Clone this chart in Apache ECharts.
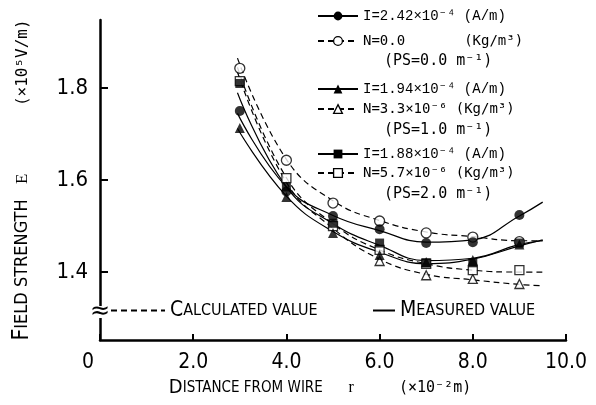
<!DOCTYPE html>
<html><head><meta charset="utf-8">
<script src="https://cdn.jsdelivr.net/npm/echarts@6/dist/echarts.min.js"></script>
<style>html,body{margin:0;padding:0;background:#fff}#c{width:596px;height:405px}</style>
</head><body><div id="c"></div>
<script>
// ---- data ----
const xTicks = [0, 2, 4, 6, 8, 10];
const yTicks = [1.4, 1.6, 1.8];
const pointX = [3, 4, 5, 6, 7, 8, 9];
const ptsMeasCircle = [1.750, 1.575, 1.522, 1.493, 1.463, 1.465, 1.524];
const ptsCalcCircle = [1.843, 1.643, 1.550, 1.511, 1.485, 1.476, 1.466];
const ptsMeasTri    = [1.713, 1.563, 1.485, 1.437, 1.422, 1.426, 1.460];
const ptsCalcTri    = [null, null, null, 1.424, 1.393, 1.385, 1.374];
const ptsMeasSq     = [1.810, 1.585, 1.506, 1.463, 1.420, 1.420, 1.463];
const ptsCalcSq     = [1.815, 1.604, 1.500, 1.448, 1.418, 1.404, 1.404];

const curveX = [2.95, 4, 5, 6, 7, 8, 9, 9.5];
const curveMeasCircle = [1.745, 1.585, 1.523, 1.490, 1.465, 1.470, 1.522, 1.552];
const curveCalcCircle = [1.865, 1.645, 1.555, 1.512, 1.487, 1.477, 1.468, 1.468];
const curveMeasTri    = [1.712, 1.565, 1.488, 1.443, 1.418, 1.428, 1.457, 1.470];
const curveCalcTri    = [1.835, 1.595, 1.495, 1.428, 1.395, 1.383, 1.373, 1.370];
const curveMeasSq     = [1.790, 1.585, 1.505, 1.458, 1.425, 1.430, 1.460, 1.468];
const curveCalcSq     = [1.845, 1.605, 1.505, 1.448, 1.418, 1.404, 1.400, 1.400];

const labelMC = 'I=2.42×10⁻⁴ (A/m)';
const labelCC = 'N=0.0       (Kg/m³)';
const labelMT = 'I=1.94×10⁻⁴ (A/m)';
const labelCT = 'N=3.3×10⁻⁶ (Kg/m³)';
const labelMS = 'I=1.88×10⁻⁴ (A/m)';
const labelCS = 'N=5.7×10⁻⁶ (Kg/m³)';
const psLabels = ['(PS=0.0 m⁻¹)', '(PS=1.0 m⁻¹)', '(PS=2.0 m⁻¹)'];
const calcName = 'Calculated value';
const measName = 'Measured value';

// ---- helpers ----
const pairs = (xs, ys) => xs.map((x, i) => [x, ys[i]]).filter(p => p[1] != null);
const SANS = "'DejaVu Sans Condensed', 'Liberation Sans Narrow', 'DejaVu Sans', sans-serif";
const FILLED = {color: '#000'};
const OPEN = {color: '#fff', borderColor: '#000', borderWidth: 1.3};

function curve(name, ys, dashed, symbol, style) {
  return {
    type: 'line', name, data: pairs(curveX, ys), smooth: 0.45,
    showSymbol: false, symbol, symbolSize: 9, itemStyle: style,
    lineStyle: {color: '#000', width: 1.2, type: dashed ? [6, 4] : 'solid'},
    z: 2, silent: true
  };
}
function pts(name, ys, symbol, style, size, z) {
  return {type: 'scatter', name, data: pairs(pointX, ys), symbol, symbolSize: size,
          itemStyle: style, z, silent: true};
}

const monoSerif = {fontFamily: "'Liberation Mono', 'DejaVu Sans Mono', monospace", fontSize: 14, color: '#000'};
const monoSans = {fontFamily: "'DejaVu Sans Mono', monospace", fontSize: 14, color: '#000'};
function legendRow(name, top, textStyle) {
  return {data: [name], left: 317, top, orient: 'vertical', padding: 0,
          itemWidth: 40, itemHeight: 11, selectedMode: false, textStyle,
          itemStyle: {borderWidth: 1.3}};
}
const smallCaps = {
  b: {fontFamily: SANS, fontSize: 20, color: '#000'},
  s: {fontFamily: SANS, fontSize: 15, color: '#000'}
};
const legendCaps = {
  b: {fontFamily: SANS, fontSize: 21, color: '#000'},
  s: {fontFamily: SANS, fontSize: 16, color: '#000'}
};
function scText(str) {
  // small caps: only the first letter large
  const up = str.toUpperCase();
  return '{b|' + up[0] + '}{s|' + up.slice(1) + '}';
}

const chart = echarts.init(document.getElementById('c'), null, {renderer: 'canvas'});
const option = {
  animation: false,
  backgroundColor: '#fff',
  grid: {left: 100, right: 30, top: 20, bottom: 65},
  xAxis: {
    type: 'value', min: 0, max: 10, interval: 2,
    axisLine: {show: true, lineStyle: {color: '#000', width: 2.5}},
    axisTick: {show: true, inside: true, length: 6, lineStyle: {color: '#000', width: 2}},
    splitLine: {show: false},
    axisLabel: {
      margin: 12, color: '#000', fontFamily: SANS, fontSize: 21,
      customValues: xTicks,
      formatter: v => v === 0 ? '{z|0}' : v.toFixed(1),
      rich: {z: {fontFamily: SANS, fontSize: 21, color: '#000', padding: [0, 24, 0, 0]}}
    },
    name: '{b|D}{s|ISTANCE FROM WIRE      }{r|r}{u|     (×10⁻²m)}',
    nameLocation: 'middle', nameGap: 33,
    nameTextStyle: {
      padding: [0, 26, 0, 0],
      rich: Object.assign({}, smallCaps, {
        r: {fontFamily: "'Liberation Serif', serif", fontSize: 16, color: '#000'},
        u: {fontFamily: "'DejaVu Sans Mono', monospace", fontSize: 15, color: '#000'}
      })
    }
  },
  yAxis: {
    type: 'value', min: 1.2522, max: 1.948,
    axisLine: {show: true, lineStyle: {color: '#000', width: 2.5}},
    axisTick: {show: true, inside: true, length: 8, customValues: yTicks, lineStyle: {color: '#000', width: 2}},
    splitLine: {show: false},
    axisLabel: {margin: 12, color: '#000', fontFamily: SANS, fontSize: 22, customValues: yTicks,
                formatter: v => v.toFixed(1)},
    name: '{B|F}{S|IELD STRENGTH   }{e|E}{u|       (×10⁵V/m)}',
    nameLocation: 'middle', nameGap: 66, nameRotate: 90,
    nameTextStyle: {
      rich: {
        B: {fontFamily: SANS, fontSize: 23, color: '#000'},
        S: {fontFamily: SANS, fontSize: 18, color: '#000'},
        e: {fontFamily: "'Liberation Serif', serif", fontSize: 17, color: '#000'},
        u: {fontFamily: "'DejaVu Sans Mono', monospace", fontSize: 16, color: '#000'}
      }
    }
  },
  legend: [
    legendRow(labelMC, 9, monoSerif),
    legendRow(labelCC, 34, monoSans),
    legendRow(labelMT, 82, monoSerif),
    legendRow(labelCT, 102, monoSans),
    legendRow(labelMS, 147, monoSerif),
    legendRow(labelCS, 166, monoSans),
    {data: [calcName], left: 110, top: 300, padding: 0, itemWidth: 54, itemHeight: 12,
     selectedMode: false, formatter: n => scText(n), textStyle: {rich: legendCaps}},
    {data: [measName], left: 372, top: 300, padding: 0, itemWidth: 22, itemHeight: 12,
     selectedMode: false, formatter: n => scText(n), textStyle: {rich: legendCaps}}
  ],
  series: [
    curve(labelMC, curveMeasCircle, false, 'circle', FILLED),
    curve(labelCC, curveCalcCircle, true, 'circle', OPEN),
    curve(labelMT, curveMeasTri, false, 'triangle', FILLED),
    curve(labelCT, curveCalcTri, true, 'triangle', OPEN),
    curve(labelMS, curveMeasSq, false, 'rect', FILLED),
    curve(labelCS, curveCalcSq, true, 'rect', OPEN),
    {type: 'line', name: calcName, data: [], symbol: 'none', itemStyle: {color: 'transparent'},
     lineStyle: {color: '#000', width: 1.2, type: [6, 4]}},
    {type: 'line', name: measName, data: [], symbol: 'none', itemStyle: {color: 'transparent'},
     lineStyle: {color: '#000', width: 1.2}},
    pts('pCC', ptsCalcCircle, 'circle', OPEN, 10, 3),
    pts('pCT', ptsCalcTri, 'triangle', OPEN, 9, 3),
    pts('pCS', ptsCalcSq, 'rect', OPEN, 9, 3),
    pts('pMC', ptsMeasCircle, 'circle', FILLED, 10, 4),
    pts('pMT', ptsMeasTri, 'triangle', FILLED, 10, 4),
    pts('pMS', ptsMeasSq, 'rect', FILLED, 9, 4)
  ]
};
chart.setOption(option);

// decorations: axis break mark and PS notes
const breakPt = chart.convertToPixel({gridIndex: 0}, [0, 1.313]);
chart.setOption({
  graphic: [
    {type: 'rect', shape: {x: breakPt[0] - 8, y: breakPt[1] - 6, width: 16, height: 12}, style: {fill: '#fff'}, z: 50},
    {type: 'text', x: breakPt[0], y: breakPt[1], z: 51,
     style: {text: '≈', font: "24px 'DejaVu Sans'", fill: '#000', align: 'center', verticalAlign: 'middle'}},
    {type: 'text', left: 384, top: 54, style: {text: psLabels[0], font: "15px 'DejaVu Sans Mono'", fill: '#000'}},
    {type: 'text', left: 384, top: 123, style: {text: psLabels[1], font: "15px 'DejaVu Sans Mono'", fill: '#000'}},
    {type: 'text', left: 384, top: 187, style: {text: psLabels[2], font: "15px 'DejaVu Sans Mono'", fill: '#000'}}
  ]
});
</script></body></html>
